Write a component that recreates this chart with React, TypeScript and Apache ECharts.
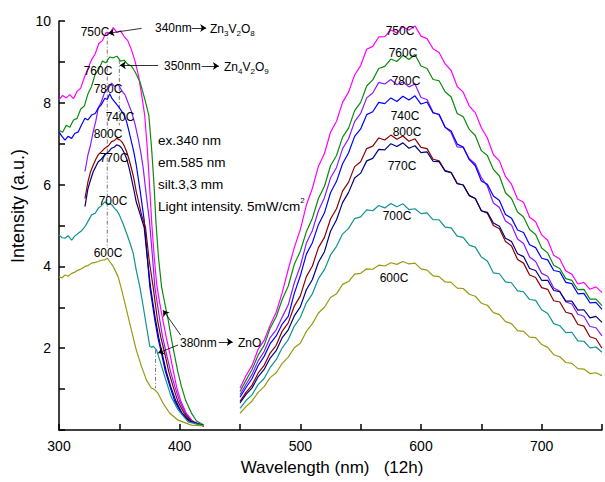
import React, { useEffect, useRef } from "react";
import * as echarts from "echarts";

const FONT = '"Liberation Sans", Arial, Helvetica, sans-serif';

// Emission wavelengths (nm)
const emWavelength = [
  450, 455, 460, 465, 470, 475, 480, 485, 490, 495, 500, 505, 510, 515, 520, 525,
  530, 535, 540, 545, 550, 555, 560, 565, 570, 575, 580, 585, 590, 595, 600, 605,
  610, 615, 620, 625, 630, 635, 640, 645, 650, 655, 660, 665, 670, 675, 680, 685,
  690, 695, 700, 705, 710, 715, 720, 725, 730, 735, 740, 745, 750,
];

// Emission spectra (a.u.)
const em750 = [1.02,1.33,1.58,1.97,2.19,2.56,2.88,3.36,3.93,4.46,4.90,5.50,5.91,6.45,6.76,7.28,7.55,8.01,8.26,8.68,8.91,9.31,9.38,9.61,9.62,9.78,9.71,9.86,9.78,9.88,9.63,9.57,9.32,9.23,8.95,8.79,8.40,8.26,7.92,7.76,7.39,7.14,6.73,6.58,6.20,6.01,5.65,5.57,5.20,5.09,4.77,4.64,4.27,4.18,3.89,3.81,3.57,3.61,3.44,3.50,3.36];
const em760 = [0.94,1.22,1.48,1.83,2.07,2.49,2.77,3.19,3.52,4.05,4.37,4.85,5.18,5.66,5.96,6.46,6.71,7.16,7.38,7.81,8.01,8.41,8.56,8.84,8.89,9.07,9.01,9.16,9.06,9.18,8.90,8.84,8.57,8.54,8.27,8.14,7.74,7.66,7.35,7.20,6.83,6.71,6.37,6.21,5.80,5.66,5.33,5.21,4.90,4.78,4.45,4.33,4.03,3.95,3.70,3.66,3.43,3.44,3.20,3.20,3.04];
const em780 = [0.86,1.12,1.36,1.69,1.92,2.26,2.45,2.76,3.06,3.60,4.01,4.57,4.88,5.36,5.68,6.16,6.42,6.88,7.12,7.54,7.74,8.12,8.24,8.50,8.46,8.57,8.44,8.51,8.39,8.46,8.13,8.08,7.77,7.70,7.40,7.27,6.92,6.91,6.63,6.51,6.17,5.96,5.55,5.44,5.11,5.01,4.67,4.56,4.23,4.12,3.83,3.76,3.47,3.39,3.13,3.08,2.83,2.78,2.53,2.50,2.30];
const em740 = [0.80,1.04,1.26,1.57,1.80,2.11,2.30,2.59,2.78,3.34,3.77,4.30,4.58,5.02,5.31,5.80,6.08,6.51,6.78,7.18,7.36,7.71,7.78,8.01,7.98,8.12,8.03,8.16,8.07,8.17,7.97,8.02,7.75,7.72,7.40,7.31,6.99,6.92,6.61,6.46,6.09,6.01,5.72,5.61,5.27,5.18,4.89,4.83,4.53,4.46,4.20,4.16,3.90,3.87,3.61,3.58,3.33,3.34,3.11,3.12,2.95];
const em800 = [0.70,0.92,1.10,1.39,1.58,1.88,2.07,2.42,2.62,3.03,3.28,3.75,4.01,4.46,4.71,5.16,5.41,5.84,6.06,6.44,6.56,6.88,6.94,7.14,7.09,7.21,7.11,7.19,7.06,7.12,6.91,6.88,6.62,6.58,6.34,6.30,6.03,5.99,5.73,5.66,5.36,5.30,5.00,4.92,4.61,4.50,4.17,4.08,3.79,3.73,3.48,3.44,3.16,3.13,2.88,2.84,2.58,2.54,2.28,2.23,2.00];
const em770 = [0.66,0.87,1.03,1.30,1.48,1.76,1.94,2.26,2.45,2.79,3.01,3.43,3.68,4.10,4.36,4.86,5.14,5.56,5.81,6.16,6.28,6.58,6.64,6.86,6.85,7.00,6.93,7.02,6.89,6.95,6.78,6.80,6.57,6.56,6.33,6.29,6.02,5.99,5.73,5.66,5.36,5.32,5.06,4.98,4.69,4.61,4.31,4.24,3.95,3.90,3.66,3.66,3.41,3.38,3.15,3.15,2.93,2.94,2.74,2.78,2.63];
const em700 = [0.53,0.72,0.86,1.11,1.26,1.53,1.72,2.01,2.21,2.54,2.75,3.11,3.33,3.70,3.92,4.28,4.49,4.79,4.93,5.17,5.21,5.38,5.36,5.49,5.43,5.54,5.46,5.53,5.39,5.41,5.29,5.31,5.14,5.14,4.96,4.94,4.74,4.71,4.52,4.47,4.23,4.13,3.84,3.82,3.62,3.60,3.40,3.38,3.19,3.17,2.94,2.85,2.60,2.55,2.38,2.39,2.18,2.17,2.01,2.03,1.90];
const em600 = [0.41,0.57,0.71,0.92,1.06,1.28,1.40,1.63,1.78,2.01,2.12,2.41,2.60,2.86,3.00,3.24,3.33,3.56,3.63,3.81,3.83,3.94,3.93,4.03,4.01,4.09,4.05,4.12,4.06,4.08,3.94,3.91,3.77,3.75,3.62,3.61,3.47,3.46,3.32,3.27,3.10,3.05,2.87,2.82,2.65,2.60,2.43,2.41,2.27,2.26,2.09,2.02,1.84,1.79,1.65,1.63,1.50,1.49,1.38,1.40,1.33];

// Excitation spectra [wavelength nm, intensity]
const ex750 = [[300,8.07],[303,8.18],[306,8.12],[309,8.20],[312,8.10],[315,8.28],[318,8.36],[321,8.62],[324,8.84],[327,9.05],[330,9.20],[333,9.45],[336,9.52],[339,9.72],[342,9.70],[345,9.84],[348,9.72],[351,9.76],[354,9.62],[357,9.52],[360,9.30],[363,9.02],[366,8.65],[369,8.10],[371,7.70],[373,6.95],[375,6.00],[377,5.00],[379,4.20],[381,3.55],[383.5,3.10],[386,2.70],[389,2.25],[392,1.85],[395,1.40],[397.5,1.05],[401,0.70],[405.5,0.41],[410,0.24],[415,0.15],[420,0.10]];
const ex760 = [[300,7.33],[303,7.28],[306,7.45],[309,7.40],[312,7.58],[315,7.62],[318,7.85],[321,7.92],[324,8.22],[327,8.40],[330,8.70],[333,8.82],[336,9.02],[339,8.98],[342,9.12],[345,9.10],[348,9.14],[351,9.02],[354,9.04],[357,8.94],[360,8.90],[363,8.76],[367,8.52],[371,8.10],[374.4,7.70],[376.7,6.90],[378.6,6.07],[380.3,5.10],[382.5,4.20],[385,3.50],[388,3.05],[390.5,2.69],[393,2.25],[395.5,1.87],[398.5,1.42],[401.5,1.06],[405,0.72],[410,0.40],[414,0.22],[420,0.12]];
const ex780 = [[321.5,6.32],[324,6.73],[326,6.95],[328.4,7.30],[330.5,7.55],[332.5,7.87],[335,8.02],[338,8.27],[341,8.36],[343.6,8.48],[346,8.40],[349,8.45],[352,8.30],[354.6,8.20],[357,8.02],[360,7.79],[363,7.48],[365.6,7.13],[368,6.75],[369.8,6.40],[372.5,5.70],[375,5.10],[377.3,4.30],[379.4,3.50],[383.5,2.69],[386,2.25],[389,1.87],[392.5,1.42],[396,1.06],[400,0.70],[404.8,0.41],[410,0.22],[420,0.10]];
const ex740 = [[300,7.29],[302.5,7.18],[305,7.09],[307.5,7.18],[310.5,7.13],[313,7.25],[316,7.29],[319,7.48],[321.5,7.62],[324,7.58],[327,7.70],[330,7.74],[332.5,7.87],[335,7.95],[338,8.11],[340,8.08],[342,8.22],[344,8.10],[346,8.03],[349,7.92],[352,7.79],[354,7.70],[356,7.54],[358,7.30],[360,7.05],[362,6.80],[364,6.48],[367,5.90],[370.6,5.13],[373,4.30],[375.3,3.50],[379.4,2.69],[382,2.25],[385,1.87],[388,1.45],[392,1.06],[396,0.70],[401.5,0.41],[408,0.22],[420,0.10]];
const ex800 = [[321.5,5.66],[324,6.07],[326,6.30],[328.4,6.48],[330.5,6.62],[332.5,6.73],[335,6.80],[338,6.89],[341,6.95],[343.6,7.05],[346,7.08],[347.7,7.13],[350,7.10],[352,7.05],[354,6.95],[356,6.81],[358,6.62],[360,6.40],[362,6.15],[364,5.83],[366,5.58],[368.4,5.26],[371.7,4.95],[374.5,4.20],[378,3.50],[381.6,2.69],[384.5,2.25],[387.7,1.87],[391,1.42],[394.6,1.06],[398.5,0.70],[403.7,0.41],[410,0.20],[420,0.10]];
const ex770 = [[321.5,5.46],[324,5.90],[326,6.10],[328.4,6.32],[330.5,6.44],[332.5,6.56],[335,6.62],[338,6.73],[341,6.80],[343.6,6.89],[346,6.92],[347.7,6.97],[350,6.95],[352,6.89],[354,6.78],[356,6.64],[358,6.42],[360,6.16],[362,5.88],[364,5.58],[367,5.30],[370.6,4.95],[373,4.25],[375.8,3.50],[380,2.69],[382.7,2.25],[385.5,1.87],[389,1.42],[392.6,1.06],[397,0.70],[402,0.41],[408,0.22],[420,0.10]];
const ex700 = [[300,4.77],[302.5,4.70],[305,4.69],[307.5,4.75],[310.5,4.64],[313,4.74],[316,4.81],[319,4.88],[321.5,4.97],[324,5.10],[327,5.26],[330,5.30],[332.5,5.42],[335,5.48],[338,5.58],[340,5.52],[342,5.54],[344,5.50],[346,5.42],[348,5.36],[350,5.26],[353,5.05],[356,4.81],[359,4.56],[361.5,4.32],[364,3.91],[367,3.50],[369.8,3.02],[372.5,2.53],[375.3,2.04],[377,2.02],[378,2.05],[380.8,1.96],[383.5,1.71],[387.7,1.30],[393,0.81],[398.7,0.49],[407,0.20],[420,0.10]];
const ex600 = [[300,3.75],[302.5,3.72],[305,3.79],[307.5,3.76],[310.5,3.83],[313,3.86],[316,3.91],[319,3.95],[321.5,4.00],[324,4.02],[327,4.08],[330,4.10],[332.5,4.12],[335,4.15],[338,4.16],[340,4.20],[342,4.12],[344.9,4.00],[349,3.75],[352,3.42],[356,2.93],[360,2.44],[364,1.96],[368.4,1.55],[372.5,1.22],[376.6,1.02],[378,1.01],[379.4,0.98],[382,0.90],[386.3,0.65],[391.8,0.41],[398.7,0.24],[409.7,0.12],[420,0.10]];

const sampleNames = ["750C", "760C", "780C", "740C", "800C", "770C", "700C", "600C"];
const sampleColors = ["#ff00ff", "#0a8a0a", "#8c1aff", "#0000ff", "#8b0000", "#000080", "#119191", "#999911"];
const exData = [ex750, ex760, ex780, ex740, ex800, ex770, ex700, ex600];
const emData = [em750, em760, em780, em740, em800, em770, em700, em600];

// Dash-dot guide lines (data coords)
const guideLines = [
  [[340, 9.74], [340, 4.45]],
  [[350, 9.05], [350, 7.45]],
  [[380, 1.96], [380, 1.02]],
];

// Annotation arrows: [from, to] in data coords
const arrowLines = [
  [[368.4, 9.82], [340.8, 9.70]],
  [[382.1, 8.92], [350.4, 8.92]],
  [[400.8, 2.32], [386.3, 2.93]],
  [[398.7, 2.08], [382.1, 1.88]],
  [[410.0, 9.83], [422.0, 9.83]],
  [[418.3, 8.90], [432.5, 8.90]],
  [[432.3, 2.15], [444.0, 2.15]],
];

function txt(x: number, y: number, text: string, o: any = {}) {
  const align = o.align || "center";
  return {
    type: "text",
    x,
    y,
    rotation: o.rotation || 0,
    silent: true,
    z: 100,
    style: {
      text,
      fill: "#000",
      fontSize: o.fontSize || 12,
      fontFamily: FONT,
      align,
      textAlign: align,
      verticalAlign: "middle",
      textVerticalAlign: "middle",
      rich: o.rich,
    },
  };
}

const subRich = (size: number) => ({
  n: { fontSize: size, fontFamily: FONT, fill: "#000", lineHeight: size + 5 },
  s: { fontSize: 8, fontFamily: FONT, fill: "#000", verticalAlign: "bottom" },
  p: { fontSize: 8, fontFamily: FONT, fill: "#000", verticalAlign: "top" },
});

export default function App() {
  const ref = useRef<HTMLDivElement>(null);
  useEffect(() => {
    document.body.style.margin = "0";
    const chart = echarts.init(ref.current!, null, { renderer: "svg" });
    const series: any[] = [];
    sampleNames.forEach((name, i) => {
      const color = sampleColors[i];
      const base = {
        type: "line",
        symbol: "none",
        showSymbol: false,
        silent: true,
        lineStyle: { color, width: 1.2 },
        itemStyle: { color },
        z: 3,
      };
      series.push({ ...base, name: name + " ex", data: exData[i] });
      series.push({
        ...base,
        name: name + " em",
        data: emWavelength.map((w, k) => [w, emData[i][k]]),
      });
    });
    guideLines.forEach((g, i) => {
      series.push({
        type: "line",
        name: "guide" + i,
        data: g,
        symbol: "none",
        silent: true,
        lineStyle: { color: "#555", width: 0.8, type: [4, 2, 1, 2] },
        z: 2,
      });
    });
    series.push({
      type: "line",
      name: "arrows",
      data: [],
      symbol: "none",
      silent: true,
      markLine: {
        silent: true,
        symbol: ["none", "arrow"],
        symbolSize: 6,
        label: { show: false },
        lineStyle: { color: "#000", width: 0.8, type: "solid" },
        emphasis: { disabled: true },
        data: arrowLines.map((a) => [{ coord: a[0] }, { coord: a[1] }]),
      },
    });

    const labelsLeft: [string, number, number][] = [
      ["750C", 95, 32], ["760C", 98, 71], ["780C", 108, 89], ["740C", 120, 117],
      ["800C", 108, 134], ["770C", 114, 158], ["700C", 113, 201], ["600C", 108, 253],
    ];
    const labelsRight: [string, number, number][] = [
      ["750C", 400, 31], ["760C", 403, 53], ["780C", 406, 81], ["740C", 405, 116],
      ["800C", 407, 132], ["770C", 402, 166], ["700C", 397, 216], ["600C", 394, 278],
    ];
    const graphic: any[] = [];
    [...labelsLeft, ...labelsRight].forEach(([t, x, y]) => graphic.push(txt(x, y, t)));
    graphic.push(txt(155, 28, "340nm", { align: "left" }));
    graphic.push(txt(210, 29, "{n|Zn}{s|3}{n|V}{s|2}{n|O}{s|8}", { align: "left", rich: subRich(12) }));
    graphic.push(txt(164, 66, "350nm", { align: "left" }));
    graphic.push(txt(224, 67, "{n|Zn}{s|4}{n|V}{s|2}{n|O}{s|9}", { align: "left", rich: subRich(12) }));
    graphic.push(txt(180, 343, "380nm", { align: "left" }));
    graphic.push(txt(238, 343, "ZnO", { align: "left" }));
    graphic.push(txt(158, 140, "ex.340 nm", { align: "left", fontSize: 13.5 }));
    graphic.push(txt(158, 162, "em.585 nm", { align: "left", fontSize: 13.5 }));
    graphic.push(txt(158, 184, "silt.3,3 mm", { align: "left", fontSize: 13.5 }));
    graphic.push(
      txt(158, 206, "{n|Light intensity. 5mW/cm}{p|2}", { align: "left", rich: subRich(13.5) })
    );
    graphic.push(txt(18, 206, "Intensity (a.u.)", { fontSize: 18, rotation: Math.PI / 2 }));
    graphic.push(txt(332, 467, "Wavelength (nm)   (12h)", { fontSize: 17 }));

    const axisStyle = { color: "#000", width: 1.5 };
    chart.setOption({
      animation: false,
      backgroundColor: "#fff",
      grid: { left: 59, right: 2, top: 21, bottom: 52, containLabel: false },
      xAxis: {
        type: "value",
        min: 300,
        max: 750,
        interval: 50,
        axisLine: { show: true, onZero: false, lineStyle: axisStyle },
        axisTick: { show: true, inside: true, length: 6, lineStyle: axisStyle },
        splitLine: { show: false },
        axisLabel: {
          color: "#000",
          fontSize: 14,
          fontFamily: FONT,
          margin: 9,
          formatter: (v: number) => (v % 100 === 0 && v < 750 ? String(v) : ""),
        },
      },
      yAxis: {
        type: "value",
        min: 0,
        max: 10,
        interval: 1,
        axisLine: { show: true, onZero: false, lineStyle: axisStyle },
        axisTick: { show: true, inside: true, length: 6, lineStyle: axisStyle },
        splitLine: { show: false },
        axisLabel: {
          color: "#000",
          fontSize: 14,
          fontFamily: FONT,
          margin: 8,
          formatter: (v: number) => (v > 0 && v % 2 === 0 ? String(v) : ""),
        },
      },
      series,
      graphic,
    });
    return () => chart.dispose();
  }, []);
  return <div ref={ref} style={{ width: 605, height: 482 }} />;
}
